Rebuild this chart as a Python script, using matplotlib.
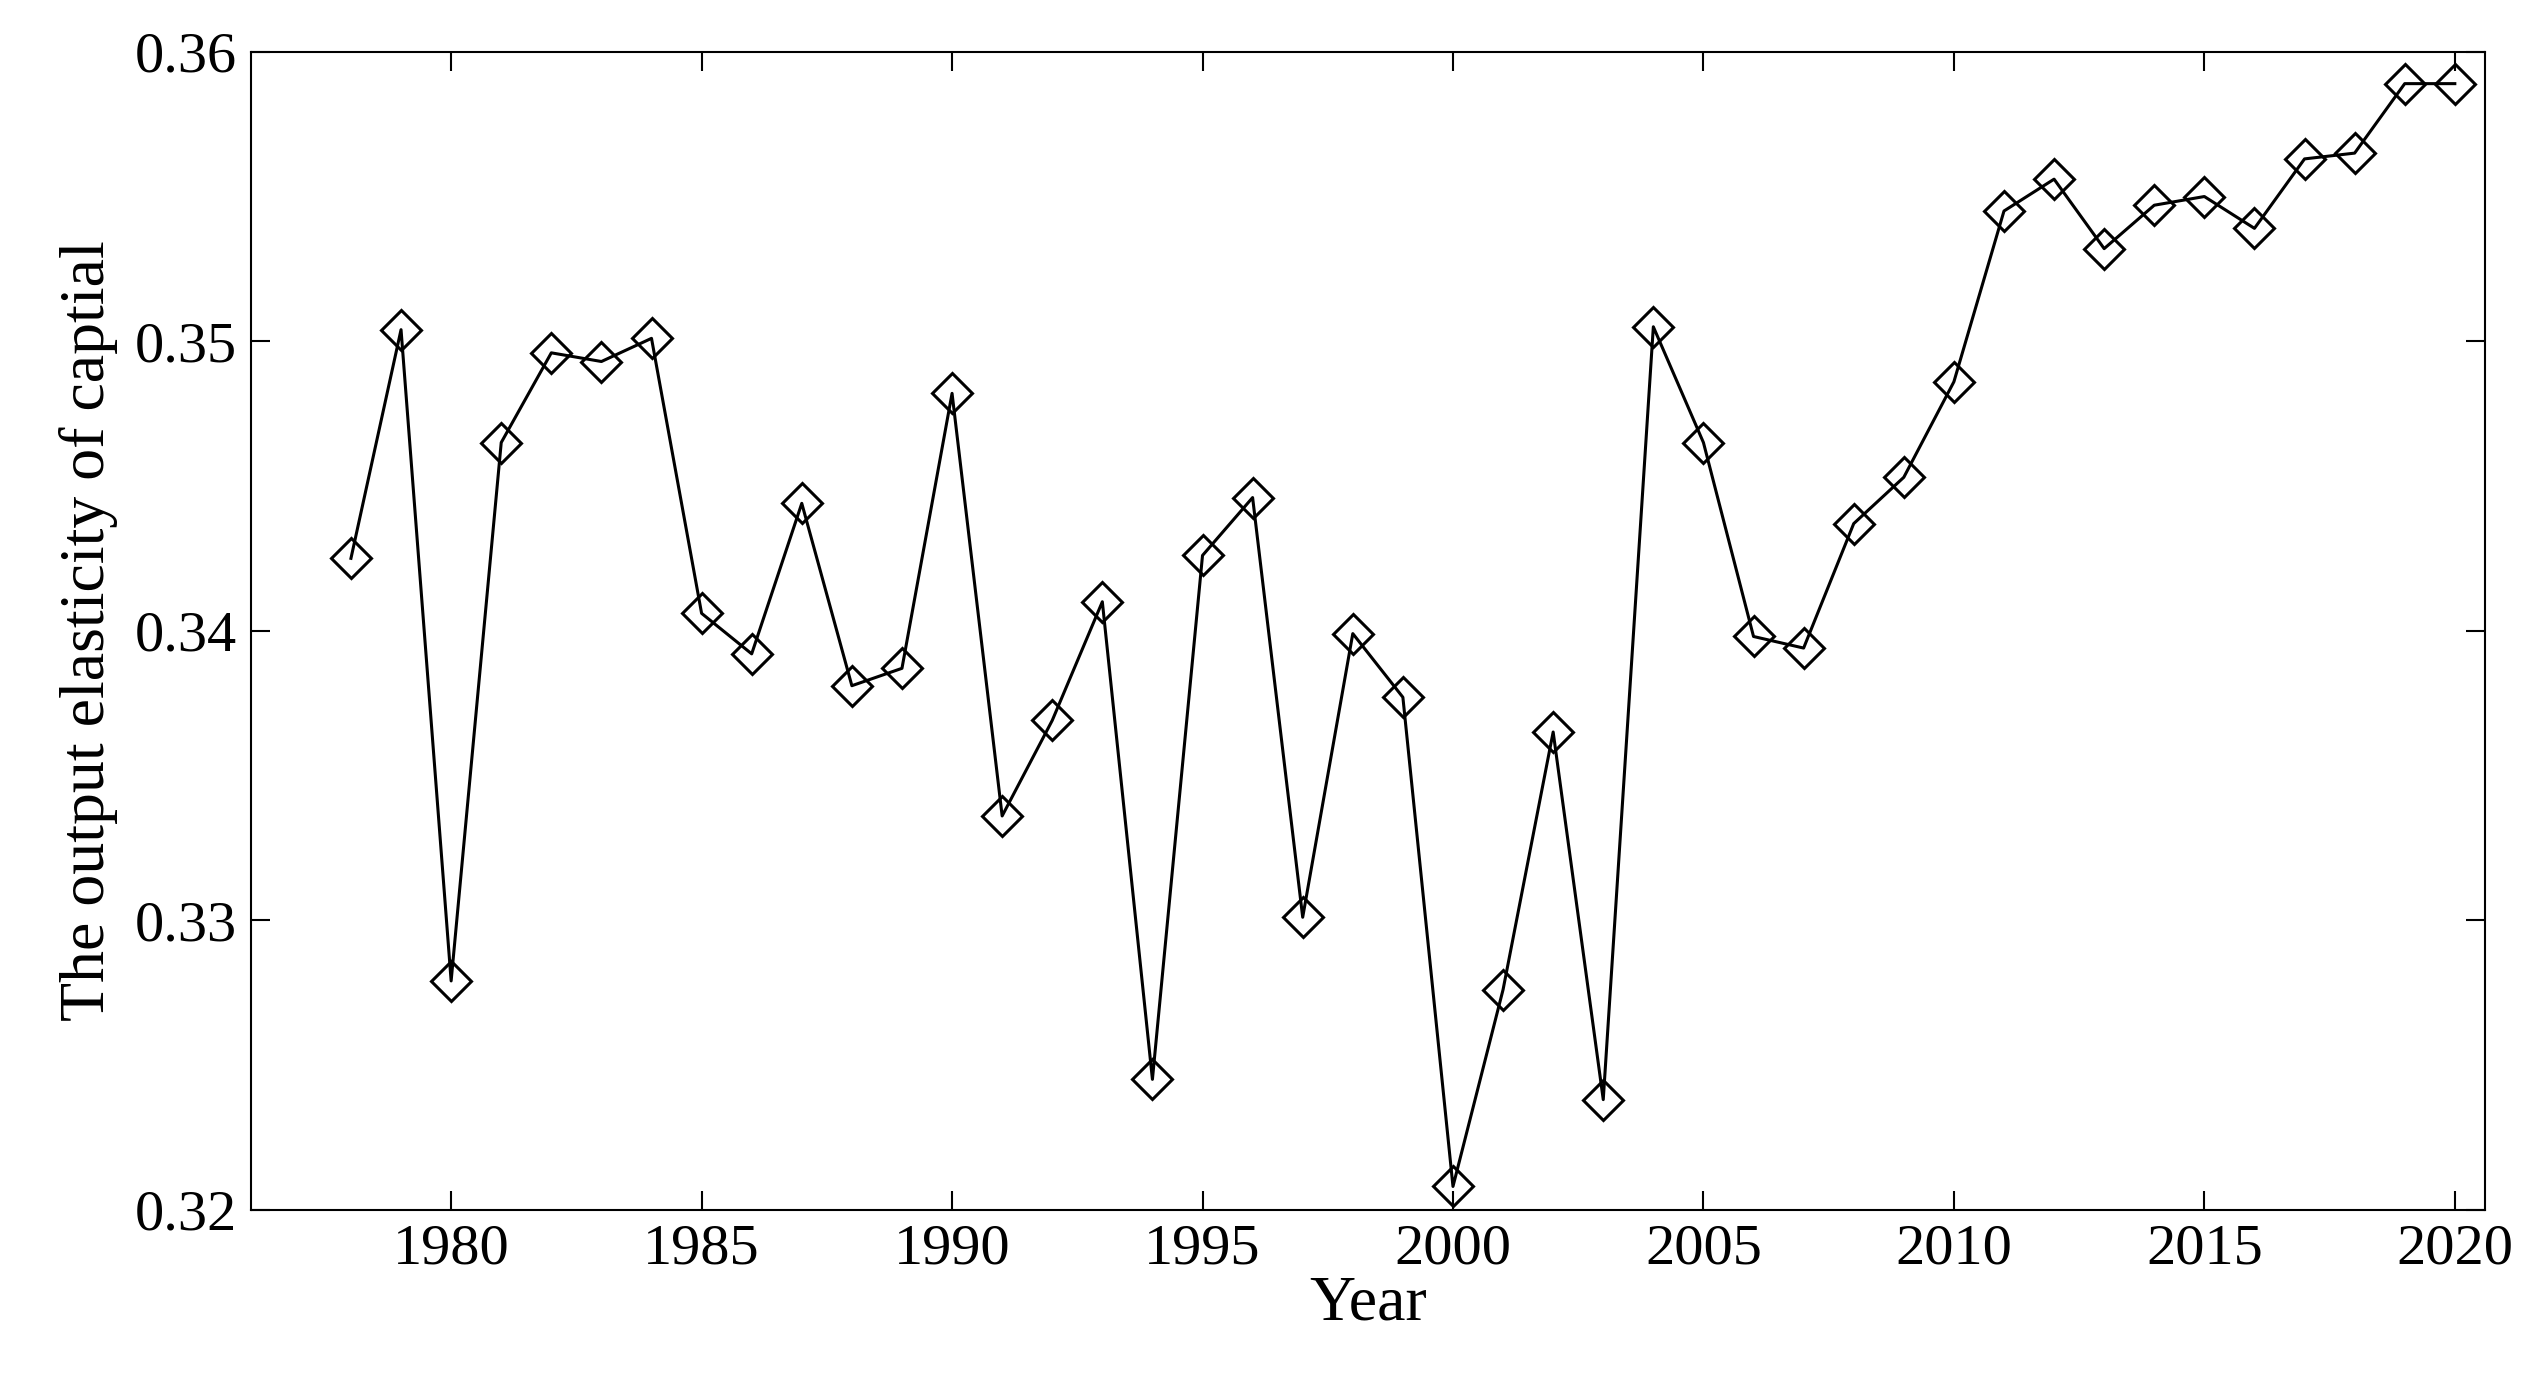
import matplotlib.pyplot as plt

plt.rcParams['font.family'] = ['Liberation Serif', 'DejaVu Serif']

years = list(range(1978, 2021))
elasticity = [0.3425, 0.3504, 0.3279, 0.3465, 0.3496, 0.3493, 0.3501, 0.3406,
              0.3392, 0.3444, 0.3381, 0.3387, 0.3482, 0.3336, 0.3369, 0.3410,
              0.3245, 0.3426, 0.3446, 0.3301, 0.3399, 0.3377, 0.3208, 0.3276,
              0.3365, 0.3238, 0.3505, 0.3465, 0.3398, 0.3394, 0.3437, 0.3453,
              0.3486, 0.3545, 0.3556, 0.3532, 0.3547, 0.3550, 0.3539, 0.3563,
              0.3565, 0.3589, 0.3589]
xticks = [1980, 1985, 1990, 1995, 2000, 2005, 2010, 2015, 2020]
yticks = [0.32, 0.33, 0.34, 0.35, 0.36]

fig = plt.figure(figsize=(25.33, 14), dpi=100)
ax = fig.add_axes([0.099, 0.136, 0.882, 0.827])
ax.plot(years, elasticity, color='black', linewidth=2.2, marker='D',
        markersize=20, markerfacecolor='none', markeredgewidth=2.2)

ax.set_xlim(1976, 2020.6)
ax.set_ylim(0.32, 0.36)
ax.set_xticks(xticks)
ax.set_yticks(yticks)
ax.set_yticklabels([f"{v:.2f}" for v in yticks])
ax.tick_params(direction='in', length=14, width=1.5, labelsize=42,
               top=True, right=True, pad=10)
for s in ax.spines.values():
    s.set_linewidth(1.5)
ax.set_xlabel("Year", fontsize=46, labelpad=0)
ax.set_ylabel("The output elasticity of captial", fontsize=46, labelpad=12)

fig.savefig("out.png", dpi=100)
